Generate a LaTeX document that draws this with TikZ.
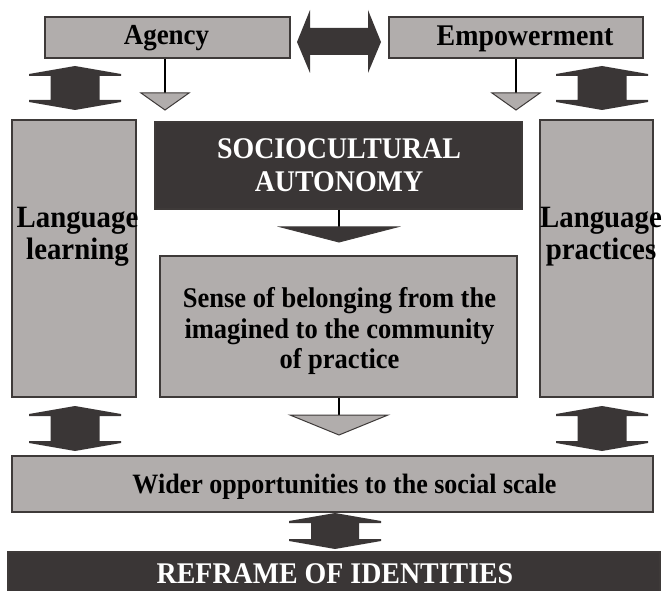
\documentclass[tikz,border=0pt]{standalone}
\usepackage{fontspec}
\setmainfont{Liberation Serif}[FakeStretch=0.93]
\usetikzlibrary{calc}
\definecolor{boxgray}{RGB}{177,173,172}
\definecolor{darkfill}{RGB}{58,54,54}
\definecolor{edgecol}{RGB}{62,58,57}
\tikzset{
  graybox/.style={draw=edgecol, line width=1.5pt, fill=boxgray, inner sep=0pt},
  darkbox/.style={draw=edgecol, line width=1.5pt, fill=darkfill, inner sep=0pt},
  blacktext/.style={inner sep=0pt, align=center, text=black, font=\fontsize{#1}{32}\selectfont\bfseries},
  whitetext/.style={inner sep=0pt, align=center, text=white, font=\fontsize{#1}{33}\selectfont\bfseries},
  fatarrow/.style={fill=darkfill, draw=none},
  thinline/.style={draw=black, line width=1.2pt},
  graytri/.style={fill=boxgray, draw=edgecol, line width=1pt},
  darktri/.style={fill=darkfill, draw=edgecol, line width=1pt},
}
% vertical fat double arrow: cx, top, bottom, head half width, shaft half width
\newcommand\fatvarrow[5]{%
  \fill[fatarrow] (#1,#2) -- (#1+#4,#2+8) -- (#1+#4,#2+10) -- (#1+#5,#2+10)
    -- (#1+#5,#3-10) -- (#1+#4,#3-10) -- (#1+#4,#3-8) -- (#1,#3)
    -- (#1-#4,#3-8) -- (#1-#4,#3-10) -- (#1-#5,#3-10) -- (#1-#5,#2+10)
    -- (#1-#4,#2+10) -- (#1-#4,#2+8) -- cycle;}
\begin{document}
\begin{tikzpicture}[x=1pt,y=-1pt]
\useasboundingbox (0,0) rectangle (665,591);
% top boxes
\node[graybox, minimum width=245, minimum height=41] (agency) at (167.5,37.5) {};
\node[blacktext=29] (agencyt) at (166.5,38.5) {Agency};
\node[graybox, minimum width=254, minimum height=41] (empower) at (516,37.5) {};
\node[blacktext=30] (empowert) at (525,38.5) {Empowerment};
% horizontal fat double arrow
\fill[fatarrow] (297,42) -- (310,10) -- (310,28) -- (368,28) -- (368,10) -- (381,42)
  -- (368,73) -- (368,55) -- (310,55) -- (310,73) -- cycle;
% side columns
\node[graybox, minimum width=124, minimum height=277] (learn) at (74,258.5) {};
\node[blacktext=31] (learnt) at (77.5,237) {Language\\learning};
\node[graybox, minimum width=113, minimum height=277] (pract) at (596.5,258.5) {};
\node[blacktext=31] (practt) at (601,237) {Language\\practices};
% centre boxes
\node[darkbox, minimum width=367, minimum height=87] (socio) at (338.5,165.5) {};
\node[whitetext=30] (sociot) at (339,165) {SOCIOCULTURAL\\AUTONOMY};
\node[graybox, minimum width=357, minimum height=141] (sense) at (338.5,326.5) {};
\node[blacktext=28.5, font=\fontsize{28.5}{30.5}\selectfont\bfseries] (senset) at (339.5,331)
  {Sense of belonging from the\\imagined to the community\\of practice};
\node[graybox, minimum width=641, minimum height=56] (wider) at (332.5,484) {};
\node[blacktext=28] (widert) at (344.5,487) {Wider opportunities to the social scale};
\node[darkbox, minimum width=652, minimum height=40] (reframe) at (334,572) {};
\node[whitetext=30] (reframet) at (335,574) {REFRAME OF IDENTITIES};
% thin connectors with triangles
\coordinate (ta) at (165,93);
\coordinate (te) at (516,93);
\coordinate (ts) at (339,227);
\coordinate (tw) at (339,415);
\draw[thinline] (agency.south -| ta) -- (ta);
\draw[graytri] (141,93) -- (189,93) -- (165,110) -- cycle;
\draw[thinline] (empower.south -| te) -- (te);
\draw[graytri] (492,93) -- (540,93) -- (516,110) -- cycle;
\draw[thinline] (socio.south -| ts) -- (ts);
\draw[darktri] (281,227) -- (397,227) -- (339,242) -- cycle;
\draw[thinline] (sense.south -| tw) -- (tw);
\draw[graytri] (290,415) -- (388,415) -- (339,435) -- cycle;
% fat vertical double arrows
\fatvarrow{75}{66}{110}{46}{24.5}
\fatvarrow{602}{66}{110}{46}{24.5}
\fatvarrow{75}{406}{451}{46}{24.5}
\fatvarrow{602}{406}{451}{46}{24.5}
\fatvarrow{335}{513}{549}{46}{24}
\end{tikzpicture}
\end{document}
